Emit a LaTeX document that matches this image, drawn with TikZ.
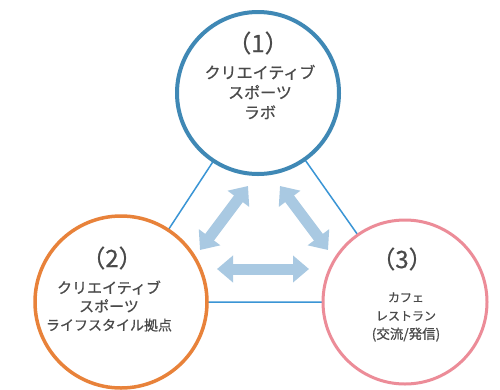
\documentclass[tikz,border=0pt]{standalone}
\usepackage{fontspec}
\setmainfont[FakeBold=0.7]{Noto Sans CJK JP}
\usetikzlibrary{arrows.meta}
\definecolor{cone}{HTML}{3F88B5}
\definecolor{ctwo}{HTML}{E8823A}
\definecolor{cthree}{HTML}{EC8C98}
\definecolor{triline}{HTML}{3A95D5}
\definecolor{arrowblue}{HTML}{A9C9E2}
\definecolor{txt}{HTML}{4A4A4A}
\tikzset{
  ring/.style={circle, fill=white, inner sep=0pt},
  tri/.style={draw=triline, line width=1.5pt},
  fat/.style={draw=arrowblue, line width=11pt, {Triangle[width=26pt,length=16pt]}-{Triangle[width=26pt,length=16pt]}},
  numlabel/.style={text=txt, font=\fontsize{24}{26}\selectfont},
  body/.style={text=txt, align=center, inner sep=0pt},
}
\begin{document}
\begin{tikzpicture}[x=1pt,y=-1pt]
\useasboundingbox (0,0) rectangle (500,389);
\fill[white] (0,0) rectangle (500,389);
\coordinate (c1) at (258,93);
\coordinate (c2) at (121,302);
\coordinate (c3) at (405,302);
\draw[tri] (c1) -- (c2) -- (c3) -- cycle;
\node[ring, draw=cone, line width=4pt, minimum size=162pt] (n1) at (c1) {};
\node[ring, draw=ctwo, line width=3.5pt, minimum size=172pt] (n2) at (c2) {};
\node[ring, draw=cthree, line width=3pt, minimum size=164pt] (n3) at (c3) {};
% arrows
\coordinate (a1s) at (200,250);
\coordinate (a1e) at (248,186);
\coordinate (a2s) at (280,186);
\coordinate (a2e) at (328,250);
\coordinate (a3s) at (217,269);
\coordinate (a3e) at (309,269);
\draw[fat] (a1s) -- (a1e);
\draw[fat] (a2s) -- (a2e);
\draw[fat] (a3s) -- (a3e);
% texts
\node[numlabel] (t1) at (258,43) {（1）};
\node[body, font=\fontsize{16}{20}\selectfont] (b1) at (260,92) {クリエイティブ\\スポーツ\\ラボ};
\node[numlabel] (t2) at (112,258) {（2）};
\node[body, font=\fontsize{15}{18.5}\selectfont] (b2) at (109,306) {クリエイティブ\\スポーツ\\{\fontsize{14}{18.5}\selectfont ライフスタイル拠点}};
\node[numlabel] (t3) at (402,259) {（3）};
\node[body, font=\fontsize{12}{18.5}\selectfont] (b3) at (406,317) {カフェ\\レストラン\\{\fontsize{13.5}{18.5}\selectfont (交流/発信)}};
\end{tikzpicture}
\end{document}
